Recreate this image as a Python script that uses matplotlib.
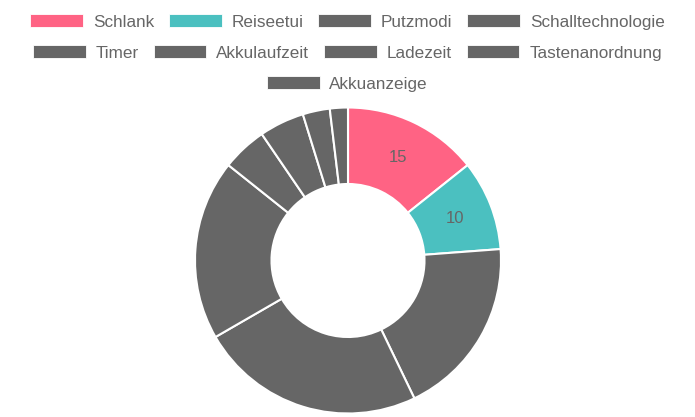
import numpy as np
import matplotlib
matplotlib.use("Agg")
import matplotlib.pyplot as plt
from matplotlib.patches import Patch

labels = ["Schlank", "Reiseetui", "Putzmodi", "Schalltechnologie", "Timer",
          "Akkulaufzeit", "Ladezeit", "Tastenanordnung", "Akkuanzeige"]
values = [15, 10, 20, 25, 20, 5, 5, 3, 2]
colors = ["#FF6384", "#4BC0C0"] + ["#666666"] * 7
shown = [True, True] + [False] * 7  # only the coloured slices carry a value label

plt.rcParams["font.family"] = ["Liberation Sans", "DejaVu Sans"]
text_color = "#666666"

fig = plt.figure(figsize=(6.95, 4.17), dpi=100)
W, H = 695, 417

# doughnut, centre at (348, 260.5) px from top, radius 153 px
cx, cy, r = 348, 260.5, 153
ax = fig.add_axes([(cx - r) / W, (H - cy - r) / H, 2 * r / W, 2 * r / H])
wedges, _ = ax.pie(values, colors=colors, startangle=90, counterclock=False,
                   radius=1, wedgeprops=dict(width=0.5, edgecolor="white", linewidth=1.5))
ax.set_xlim(-1, 1)
ax.set_ylim(-1, 1)
ax.axis("off")

for w, v, s in zip(wedges, values, shown):
    if not s:
        continue
    mid = np.deg2rad((w.theta1 + w.theta2) / 2)
    ax.text(0.75 * np.cos(mid), 0.75 * np.sin(mid), str(v), ha="center", va="center",
            fontsize=12, color=text_color)

# legend rows, centred like the original
rows = [labels[0:4], labels[4:8], labels[8:9]]
row_y = [22, 53, 84]
idx = 0
for row, y in zip(rows, row_y):
    handles = []
    for name in row:
        handles.append(Patch(facecolor=colors[idx], edgecolor="white", linewidth=0.6, label=name))
        idx += 1
    leg = fig.legend(handles=handles, loc="center", bbox_to_anchor=(0.5, 1 - y / H),
                     ncol=len(row), frameon=False, fontsize=12.3, labelcolor=text_color,
                     handlelength=3.08, handleheight=0.8, handletextpad=0.58,
                     columnspacing=0.87, borderpad=0, borderaxespad=0)

fig.savefig("out.png", dpi=100)
